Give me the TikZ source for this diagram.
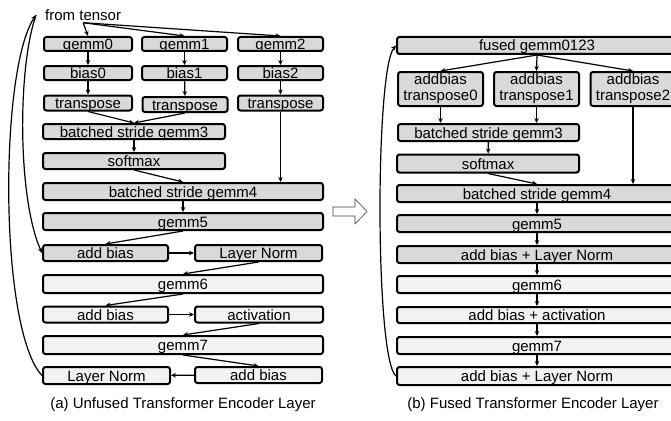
\documentclass[tikz,border=0pt]{standalone}
\usepackage{fontspec}
\setmainfont{Liberation Sans}
\usetikzlibrary{arrows.meta}
\definecolor{topfill}{HTML}{D9D9D9}
\definecolor{lowfill}{HTML}{F2F2F2}
\newcommand{\labfont}{\fontsize{15}{16}\selectfont}

\begin{document}
\begin{tikzpicture}[x=1pt,y=-1pt,>={Stealth[length=5pt,width=4.5pt]},
	blk/.style={draw,line width=2pt,rounded corners=2.5pt,fill=topfill,inner sep=0pt,
		font=\labfont,text height=11pt,text depth=0pt,minimum height=16pt},
	blklow/.style={blk,fill=lowfill},
	blktwo/.style={draw,line width=2pt,rounded corners=2.5pt,fill=topfill,inner sep=0pt,
		font=\labfont,align=center,minimum height=34pt},
	flow/.style={line width=1.2pt,->}]
	\useasboundingbox (0,0) rectangle (671,420);

	% (a) unfused layer
	\node[font=\labfont,anchor=west,inner sep=2pt] (src) at (43,15) {from tensor};
	\coordinate (ft) at (36,15);

	\foreach \i/\x/\w in {0/88/88pt,1/184.5/85pt,2/280.5/85pt}
	{
		\node[blk,minimum width=\w,minimum height=14pt] (gemm\i) at (\x,44) {gemm\i};
		\node[blk,minimum width=\w,minimum height=14pt] (bias\i) at (\x,73) {bias\i};
	}
	\foreach \i/\x/\y/\w in {0/88/103/88pt,1/185/104.5/85pt,2/280.5/103/85pt}
		\node[blk,minimum width=\w,minimum height=15pt] (tr\i) at (\x,\y) {transpose};

	\node[blk,minimum width=182pt,minimum height=15pt] (bsg3) at (134,131.5) {batched stride gemm3};
	\node[blk,minimum width=182pt] (smax) at (134,161) {softmax};
	\node[blk,minimum width=280pt,minimum height=17pt] (bsg4) at (183,191.5) {batched stride gemm4};
	\node[blk,minimum width=280pt,minimum height=17pt] (gemm5) at (183,221.5) {gemm5};
	\node[blk,minimum width=125pt] (addb1) at (105.5,253) {add bias};
	\node[blk,minimum width=127pt] (lnorm1) at (258.5,253) {Layer Norm};
	\node[blklow,minimum width=280pt,minimum height=18pt] (gemm6) at (183,284) {gemm6};
	\node[blklow,minimum width=125pt] (addb2) at (105.5,314.5) {add bias};
	\node[blklow,minimum width=128pt] (act) at (259,314.5) {activation};
	\node[blklow,minimum width=280pt,minimum height=18pt] (gemm7) at (183,345) {gemm7};
	\node[blklow,minimum width=127pt,minimum height=17pt] (lnorm2) at (106.5,375.5) {Layer Norm};
	\node[blklow,minimum width=127pt] (addb3) at (258.5,375) {add bias};

	\foreach \i in {0,1,2}
	{
		\draw[flow] (src.south) -- (gemm\i.north);
		\draw[flow] (gemm\i) -- (bias\i);
		\draw[flow] (bias\i) -- (tr\i);
	}
	\draw[flow] (tr0.south) -- (bsg3.north);
	\draw[flow] (tr1.south) -- (bsg3.north);
	\draw[flow] (tr2.south) -- (tr2.south |- bsg4.north);
	\draw[flow] (bsg3) -- (smax);
	\draw[flow] (smax.south) -- (bsg4.north);
	\draw[flow] (bsg4) -- (gemm5);
	\draw[flow] (gemm5.south) -- (addb1.north);
	\draw[flow] (addb1) -- (lnorm1);
	\draw[flow] (lnorm1.south) -- (gemm6.north);
	\draw[flow] (gemm6.south) -- (addb2.north);
	\draw[flow] (addb2) -- (act);
	\draw[flow] (act.south) -- (gemm7.north);
	\draw[flow] (gemm7.south) -- (addb3.north);
	\draw[flow] (addb3) -- (lnorm2);
	\draw[flow] (lnorm2.west) .. controls (-1,330) and (-1,70) .. (ft);
	\draw[flow] (ft) .. controls (17,70) and (18,200) .. (addb1.west);

	\node[font=\labfont] (capa) at (183,405) {(a) Unfused Transformer Encoder Layer};

	% hollow arrow between the two layers
	\draw[line width=0.6pt,black!75] (333,207) -- (355,207) -- (355,199) -- (367,211.5)
		-- (355,224) -- (355,216) -- (333,216) -- cycle;

	% (b) fused layer
	\node[blk,minimum width=280pt,minimum height=17pt] (fused) at (537,45.5) {fused gemm0123};
	\foreach \i/\x in {0/440.5,1/536.5,2/633}
		\node[blktwo,minimum width=85pt] (abt\i) at (\x,89) {addbias\\transpose\i};
	\node[blk,minimum width=181pt,minimum height=17pt] (bsg3r) at (488.5,132.5) {batched stride gemm3};
	\node[blk,minimum width=182pt,minimum height=18pt] (smaxr) at (488,163.5) {softmax};
	\node[blk,minimum width=280pt,minimum height=17pt] (bsg4r) at (537,193.5) {batched stride gemm4};
	\node[blk,minimum width=280pt,minimum height=17pt] (gemm5r) at (537,223.5) {gemm5};
	\node[blk,minimum width=280pt,minimum height=17pt] (abln1r) at (537,254.5) {add bias + Layer Norm};
	\node[blklow,minimum width=280pt,minimum height=17pt] (gemm6r) at (537,284.5) {gemm6};
	\node[blklow,minimum width=280pt,minimum height=16pt] (abact) at (537,315) {add bias + activation};
	\node[blklow,minimum width=280pt,minimum height=17pt] (gemm7r) at (537,345.5) {gemm7};
	\node[blklow,minimum width=280pt,minimum height=18pt] (abln2r) at (537,376) {add bias + Layer Norm};

	\foreach \i in {0,1,2}
		\draw[flow] (fused.south) -- (abt\i.north);
	\draw[flow] (abt0.south) -- (abt0.south |- bsg3r.north);
	\draw[flow] (abt1.south) -- (abt1.south |- bsg3r.north);
	\draw[flow] (abt2.south) -- (abt2.south |- bsg4r.north);
	\draw[flow] (bsg3r) -- (smaxr);
	\draw[flow] (smaxr.south) -- (bsg4r.north);
	\draw[flow] (bsg4r) -- (gemm5r);
	\draw[flow] (gemm5r) -- (abln1r);
	\draw[flow] (abln1r) -- (gemm6r);
	\draw[flow] (gemm6r) -- (abact);
	\draw[flow] (abact) -- (gemm7r);
	\draw[flow] (gemm7r) -- (abln2r);
	\draw[flow] (abln2r.west) .. controls (375,360) and (375,70) .. (fused.west);

	\node[font=\labfont] (capb) at (533,405) {(b) Fused Transformer Encoder Layer};
\end{tikzpicture}
\end{document}
